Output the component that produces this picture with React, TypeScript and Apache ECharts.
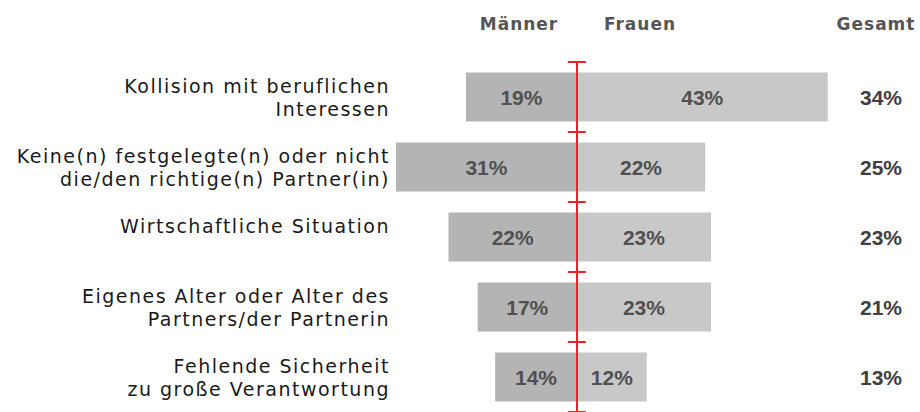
import React, { useEffect, useRef } from "react";
import * as echarts from "echarts";

const categories = [
  "Kollision mit beruflichen\nInteressen",
  "Keine(n) festgelegte(n) oder nicht\ndie/den richtige(n) Partner(in)",
  "Wirtschaftliche Situation",
  "Eigenes Alter oder Alter des\nPartners/der Partnerin",
  "Fehlende Sicherheit\nzu große Verantwortung",
];
const maenner = [19, 31, 22, 17, 14];
const frauen = [43, 22, 23, 23, 12];
const gesamt = [34, 25, 23, 21, 13];
const headers = ["Männer", "Frauen", "Gesamt"];

const RED = "#e8232a";

export default function App() {
  const ref = useRef<HTMLDivElement>(null);
  useEffect(() => {
    if (!ref.current) return;
    const chart = echarts.init(ref.current, null, { renderer: "svg" });
    const gridBox = { left: 396, right: 69, top: 62, bottom: -3, containLabel: false };
    const xBase = { type: "value" as const, min: -31, max: 47, show: false };
    const catAxisBase = {
      type: "category" as const,
      data: categories,
      inverse: true,
      axisLabel: { show: false },
      splitLine: { show: false },
    };
    const valueLabel = {
      show: true,
      position: "inside" as const,
      fontFamily: "Liberation Sans",
      fontWeight: "bold" as const,
      fontSize: 21,
      color: "#505050",
      formatter: (p: any) => Math.abs(p.value) + "%",
    };
    chart.setOption({
      animation: false,
      grid: [gridBox, gridBox],
      xAxis: [
        { ...xBase, gridIndex: 0 },
        { ...xBase, gridIndex: 1 },
      ],
      yAxis: [
        {
          ...catAxisBase,
          gridIndex: 0,
          position: "left",
          z: 10,
          axisLine: { show: true, onZero: true, lineStyle: { color: RED, width: 2 } },
          axisTick: { show: true, inside: true, length: 9, lineStyle: { color: RED, width: 2 } },
        },
        {
          ...catAxisBase,
          gridIndex: 1,
          position: "left",
          z: 10,
          axisLine: { show: true, onZero: true, lineStyle: { color: RED, width: 2 } },
          axisTick: { show: true, inside: false, length: 9, lineStyle: { color: RED, width: 2 } },
        },
        {
          ...catAxisBase,
          gridIndex: 0,
          position: "left",
          axisLine: { show: false, onZero: false },
          axisTick: { show: false },
          axisLabel: {
            show: true,
            margin: 6,
            fontFamily: "DejaVu Sans",
            fontSize: 19,
            lineHeight: 23,
            color: "#1a1a1a",
            align: "right",
            padding: [0, 0, 6, 0],
            formatter: (v: string) => (v.indexOf("\n") < 0 ? v + "\n " : v),
          },
        },
        {
          ...catAxisBase,
          gridIndex: 0,
          position: "right",
          axisLine: { show: false, onZero: false },
          axisTick: { show: false },
          axisLabel: {
            show: true,
            margin: 9,
            fontFamily: "Liberation Sans",
            fontWeight: "bold",
            fontSize: 21,
            color: "#404040",
            formatter: (_v: string, i: number) => gesamt[i] + "%",
          },
        },
      ],
      series: [
        {
          name: headers[0],
          type: "bar",
          xAxisIndex: 0,
          yAxisIndex: 0,
          data: maenner.map((v) => -v),
          barWidth: 49,
          barGap: "-100%",
          itemStyle: { color: "#b4b4b4" },
          label: valueLabel,
          z: 1,
        },
        {
          name: headers[1],
          type: "bar",
          xAxisIndex: 0,
          yAxisIndex: 0,
          data: frauen,
          barWidth: 49,
          barGap: "-100%",
          itemStyle: { color: "#c8c8c8" },
          label: valueLabel,
          z: 1,
        },
      ],
      graphic: [
        { type: "text", x: 519, y: 24, style: { text: headers[0], fontFamily: "DejaVu Sans", fontWeight: "bold", fontSize: 17, fill: "#555555", align: "center", verticalAlign: "middle" } },
        { type: "text", x: 640, y: 24, style: { text: headers[1], fontFamily: "DejaVu Sans", fontWeight: "bold", fontSize: 17, fill: "#555555", align: "center", verticalAlign: "middle" } },
        { type: "text", x: 876, y: 24, style: { text: headers[2], fontFamily: "DejaVu Sans", fontWeight: "bold", fontSize: 17, fill: "#555555", align: "center", verticalAlign: "middle" } },
      ],
    });
    return () => chart.dispose();
  }, []);
  return (
    <>
      <style>{`
        #chart text[style*="dejavu" i] { letter-spacing: 1.5px; }
        #chart text[style*="dejavu" i][style*="bold" i] { letter-spacing: 1px; }
      `}</style>
      <div
        id="chart"
        ref={ref}
        style={{ position: "absolute", left: 0, top: 0, width: 920, height: 412 }}
      />
    </>
  );
}
